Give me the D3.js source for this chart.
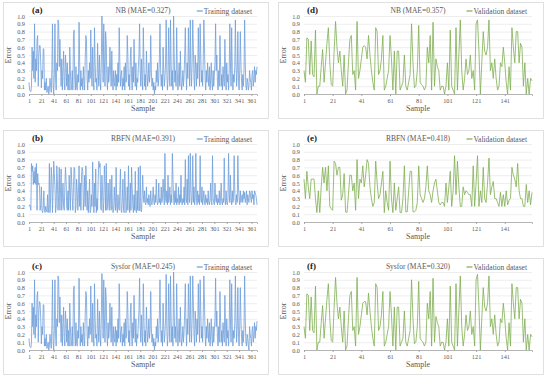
<!DOCTYPE html>
<meta charset="utf-8">
<style>
  body { margin: 0; background: #fff; }
  svg text { font-family: "Liberation Serif", "DejaVu Serif", serif; fill: #595959; }
  .grid line { stroke: #e3e3e3; stroke-width: 0.6; }
  .grid .domain { display: none; }
  .xAxis .domain { stroke: #a6a6a6; stroke-width: 0.8; }
  .xAxis line { stroke: #a6a6a6; }
</style>
<body>
<div id="chartBx"></div>
<script src="https://cdn.jsdelivr.net/npm/d3@7"></script>
<script>

// ---- data ----
var yTicks = [0, 0.1, 0.2, 0.3, 0.4, 0.5, 0.6, 0.7, 0.8, 0.9, 1.0];

var nbTrain = [
  .15,.05,.04,.03,.10,.60,.30,.55,.20,.90, .15,.45,.30,.70,.75,.10,.50,.62,.62,.40,
  .08,.30,.20,.58,.58,.05,.15,.05,.20,.02, .05,.10,.00,.05,.20,.10,.02,.30,.90,.10,
  .00,.25,.90,.20,.05,.40,.30,.95,.90,.35, .70,.40,.10,.45,.05,.30,.55,.15,.05,.50,
  .35,.10,.40,.05,.25,.05,.60,.30,.05,.10, .30,.05,.75,.82,.20,.05,.35,.10,.05,.25,
  .15,.92,.40,.05,.30,.10,.20,.05,.35,.15, .05,.45,.75,.70,.20,.05,.30,.15,.40,.20,
  .82,.30,.10,.60,.20,.05,.85,.40,.15,.20, .05,.65,.30,.10,.50,.20,.05,.40,1.0,.60,
  .15,.90,.40,.10,.80,.65,.20,.05,.35,.15, .25,.60,.30,.10,.55,.20,.05,.30,.15,.10,
  .30,.05,.25,.10,.40,.15,.85,.40,.10,.25, .30,.05,.20,.10,.35,.05,.40,.15,.20,.75,
  .50,.10,.25,.05,.45,.60,.20,.05,.35,.15, .70,.30,.10,.40,.05,.20,.15,.35,.50,.90,
  .30,.10,.45,.20,.05,.85,.40,.10,.25,.05, .55,.30,.10,.20,.40,.15,.25,.75,.30,.10,
  .20,.05,.15,.00,.10,.05,.30,.15,.40,.10, .20,.45,.90,.30,.10,.25,.05,.60,.30,.10,
  .20,.40,.95,.30,.05,.20,.85,.35,.10,.95, .40,.10,.30,.05,1.0,.50,.15,.30,.10,.85,
  .30,.05,.20,.40,.10,.55,.20,.05,.15,.30, .10,.25,.50,.85,.30,.05,.40,.20,.85,.40,
  .10,.95,.30,.10,.40,.95,.60,.20,.05,.50, .30,.10,.40,.20,.85,.40,.10,.90,.50,.15,
  .30,.10,.45,.95,.60,.20,.05,.30,.15,.40, .25,.10,.35,.05,.20,.40,.15,.05,.30,.10,
  .25,.40,.90,.30,.50,.15,.05,.30,.10,.75, .40,.10,.25,.05,.35,.20,.10,.70,.30,.05,
  .40,.15,.25,.05,.30,.90,.40,.10,.85,.30, .05,.25,.15,.35,.95,.40,.10,.30,.80,.20,
  .05,.30,.80,.40,.15,.05,.25,.10,.30,.95, .40,.10,.05,.20,.15,.05,.10,.30,.20,.15,
  .05,.25,.30,.10,.20,.35,.15,.30,.25,.35
];

var rbfnTrain = [
  .20,.22,.20,.15,.75,.65,.72,.48,.65,.50, .70,.48,.75,.15,.62,.48,.50,.45,.15,.22,
  .45,.15,.12,.18,.40,.15,.12,.20,.16,.13, .35,.12,.18,.75,.12,.30,.70,.55,.12,.40,
  .78,.62,.45,.12,.20,.72,.50,.15,.35,.70, .15,.40,.68,.15,.30,.50,.20,.15,.45,.70,
  .55,.20,.15,.40,.15,.60,.35,.15,.70,.55, .30,.15,.45,.70,.68,.12,.20,.55,.40,.15,
  .35,.72,.20,.50,.15,.60,.70,.65,.15,.30, .60,.20,.72,.50,.15,.40,.12,.30,.55,.12,
  .15,.35,.20,.77,.40,.12,.50,.20,.68,.12, .30,.15,.55,.78,.70,.75,.20,.15,.60,.40,
  .12,.25,.72,.50,.15,.75,.15,.20,.50,.25, .15,.55,.30,.15,.60,.20,.12,.15,.45,.25,
  .15,.70,.20,.12,.35,.20,.15,.40,.68,.15, .12,.30,.55,.15,.12,.65,.40,.12,.20,.45,
  .15,.72,.30,.12,.50,.15,.70,.45,.20,.12, .35,.15,.65,.15,.12,.40,.15,.70,.14,.15,
  .72,.15,.13,.30,.60,.35,.25,.40,.25,.22, .45,.25,.30,.22,.35,.25,.20,.40,.25,.22,
  .30,.45,.25,.22,.35,.25,.55,.30,.22,.25, .50,.25,.30,.22,.45,.25,.30,.55,.35,.22,
  .88,.30,.25,.40,.22,.60,.25,.30,.45,.22, .35,.25,.88,.55,.30,.22,.40,.25,.50,.22,
  .30,.25,.45,.22,.35,.25,.60,.25,.22,.30, .25,.45,.22,.80,.30,.25,.55,.22,.85,.30,
  .25,.88,.40,.22,.30,.85,.25,.45,.22,.30, .88,.30,.22,.40,.25,.35,.22,.85,.30,.25,
  .45,.22,.30,.40,.25,.22,.35,.25,.30,.22, .40,.25,.22,.30,.50,.25,.22,.85,.30,.25,
  .22,.50,.30,.25,.35,.22,.30,.25,.40,.22, .30,.50,.25,.22,.30,.25,.82,.30,.22,.40,
  .25,.22,.30,.88,.35,.25,.60,.30,.22,.40, .25,.30,.85,.40,.25,.22,.35,.25,.85,.45,
  .30,.22,.40,.25,.30,.35,.25,.40,.30,.38, .25,.30,.40,.22,.35,.30,.25,.40,.38,.30,
  .25,.40,.30,.35,.22,.40,.38,.35,.30,.22
];

var sysforTrain = [
  .15,.05,.04,.03,.10,.60,.30,.55,.20,.90, .15,.45,.30,.70,.75,.10,.50,.62,.60,.40,
  .08,.30,.20,.58,.58,.05,.15,.05,.20,.02, .05,.10,.00,.05,.20,.10,.02,.30,.90,.10,
  .00,.25,.90,.20,.05,.40,.30,.95,.90,.35, .68,.40,.10,.45,.05,.30,.55,.15,.05,.50,
  .35,.10,.40,.05,.25,.05,.60,.30,.05,.10, .30,.05,.75,.82,.20,.05,.35,.10,.05,.25,
  .15,.92,.40,.05,.30,.10,.20,.05,.35,.15, .05,.45,.75,.70,.20,.05,.30,.15,.40,.20,
  .82,.30,.10,.60,.20,.05,.85,.40,.15,.20, .05,.65,.30,.10,.50,.20,.05,.40,.98,.60,
  .15,.90,.40,.10,.80,.65,.20,.05,.35,.15, .25,.60,.30,.10,.55,.20,.05,.30,.15,.10,
  .30,.05,.25,.10,.40,.15,.85,.40,.10,.25, .30,.05,.20,.10,.35,.05,.40,.15,.20,.75,
  .50,.10,.25,.05,.45,.60,.20,.05,.35,.15, .70,.30,.10,.40,.05,.20,.15,.35,.50,.92,
  .30,.10,.45,.20,.05,.85,.40,.10,.25,.05, .55,.30,.10,.20,.40,.15,.25,.75,.30,.10,
  .20,.05,.15,.00,.10,.05,.30,.15,.40,.10, .20,.45,.90,.30,.10,.25,.05,.60,.30,.10,
  .20,.40,.97,.30,.05,.20,.85,.35,.10,.95, .40,.10,.30,.05,1.0,.50,.15,.30,.10,.85,
  .30,.05,.20,.40,.10,.55,.20,.05,.15,.30, .10,.25,.50,.85,.30,.05,.40,.20,.85,.40,
  .10,.95,.30,.10,.40,.95,.60,.20,.05,.50, .30,.10,.40,.20,.85,.40,.10,.90,.50,.15,
  .30,.10,.45,.95,.60,.20,.05,.30,.15,.40, .25,.10,.35,.05,.20,.40,.15,.05,.30,.10,
  .25,.40,.92,.30,.50,.15,.05,.30,.10,.75, .40,.10,.25,.05,.35,.20,.10,.70,.30,.05,
  .40,.15,.25,.05,.30,.90,.40,.10,.85,.30, .05,.25,.15,.35,.95,.40,.10,.30,.80,.20,
  .05,.30,.80,.40,.15,.05,.25,.10,.30,.95, .40,.10,.05,.20,.15,.05,.00,.30,.20,.15,
  .05,.25,.30,.10,.20,.35,.15,.30,.25,.37
];

var nbValid = [
  .30,.15,.72,.70,.25,.68,.25,.22,.82,.00, .10,.10,.35,.57,.15,.40,.65,.85,.40,.12,
  .10,.55,.93,.60,.40,.55,.30,.10,.50,.00, .05,.40,.70,.75,.25,.30,.05,.93,.20,.30,
  .45,.60,.62,.60,.45,.75,.50,.30,.15,.05, .85,.80,.25,.30,.45,.75,.05,.10,.20,.30,
  .75,.45,.05,.55,.00,.55,.55,.05,.10,.15, .50,.10,.05,.15,.25,.90,.40,.08,.10,.30,
  .88,.15,.12,.10,.05,.10,.60,.40,.75,.05, .92,.10,.45,.35,.30,.05,.10,.10,.00,.10,
  .40,.05,.82,.10,.05,.00,.85,.05,.50,.95, .30,.05,.20,.45,.25,.30,.50,.20,.30,.05,
  .90,.95,.55,.00,.40,.80,.55,.50,.60,.95, .30,.40,.20,.45,.20,.05,.10,.40,.35,.60,
  .40,.15,.00,.35,.05,.85,.60,.40,.80,.80, .40,.65,.60,.10,.40,.00,.20,.00,.20,.17
];

var rbfnValid = [
  .55,.30,.65,.45,.30,.55,.55,.55,.30,.12, .40,.12,.45,.70,.50,.70,.40,.72,.20,.17,
  .15,.78,.75,.60,.70,.70,.28,.35,.62,.13, .12,.35,.60,.60,.40,.50,.15,.80,.30,.55,
  .50,.72,.45,.60,.80,.75,.45,.30,.20,.25, .78,.50,.30,.35,.50,.65,.12,.40,.25,.15,
  .78,.30,.12,.50,.15,.30,.45,.12,.12,.30, .72,.13,.13,.40,.65,.65,.13,.13,.15,.25,
  .72,.35,.30,.25,.30,.45,.72,.40,.35,.25, .40,.50,.55,.40,.25,.22,.25,.25,.20,.50,
  .25,.45,.65,.20,.40,.85,.35,.78,.45,.20, .20,.45,.35,.40,.38,.35,.35,.20,.72,.20,
  .50,.85,.20,.40,.25,.70,.30,.25,.50,.82, .35,.45,.52,.30,.30,.25,.20,.38,.20,.35,
  .20,.40,.22,.28,.30,.70,.60,.55,.45,.75, .40,.30,.30,.20,.20,.48,.25,.40,.22,.38
];

var sysforValid = [
  .30,.15,.72,.70,.25,.68,.25,.22,.82,.00, .10,.10,.35,.57,.15,.40,.65,.85,.40,.12,
  .10,.55,.93,.60,.40,.55,.30,.10,.50,.00, .05,.40,.70,.75,.25,.30,.05,.93,.20,.30,
  .45,.60,.62,.62,.45,.73,.50,.30,.15,.05, .85,.80,.25,.30,.45,.75,.05,.10,.20,.30,
  .75,.45,.05,.55,.00,.55,.55,.05,.10,.15, .50,.10,.05,.15,.25,.90,.40,.08,.10,.30,
  .88,.15,.12,.10,.05,.10,.60,.40,.75,.05, .92,.10,.43,.35,.30,.05,.10,.10,.00,.10,
  .40,.05,.82,.10,.05,.00,.85,.05,.50,.95, .30,.05,.20,.45,.25,.30,.50,.20,.30,.05,
  .90,.97,.55,.00,.40,.80,.55,.50,.60,.95, .30,.40,.20,.45,.20,.05,.10,.40,.35,.60,
  .40,.15,.00,.35,.05,.85,.60,.40,.80,.80, .40,.65,.60,.10,.40,.00,.20,.00,.20,.17
];

var panels = [
  { tag: "(a)", title: "NB (MAE=0.327)",     legend: "Training dataset",   values: nbTrain,     col: 0, row: 0 },
  { tag: "(b)", title: "RBFN (MAE=0.391)",   legend: "Training dataset",   values: rbfnTrain,   col: 0, row: 1 },
  { tag: "(c)", title: "Sysfor (MAE=0.245)", legend: "Training dataset",   values: sysforTrain, col: 0, row: 2 },
  { tag: "(d)", title: "NB (MAE=0.357)",     legend: "Validation dataset", values: nbValid,     col: 1, row: 0 },
  { tag: "(e)", title: "RBFN (MAE=0.418)",   legend: "Validation dataset", values: rbfnValid,   col: 1, row: 1 },
  { tag: "(f)", title: "Sysfor (MAE=0.320)", legend: "Validation dataset", values: sysforValid, col: 1, row: 2 }
];

var lineColors = ["#6f9edb", "#7fae52"];   // training / validation
var FONT = "Liberation Serif";

var svg = d3.select("#chartBx").append("svg")
    .attr("width", 550)
    .attr("height", 378)
    .attr("font-family", FONT);

svg.append("rect").attr("width", 550).attr("height", 378).attr("fill", "#fff");

panels.forEach(function(p) { makePanel(p); });

function makePanel(p) {
  var boxX = 3 + p.col * 275, boxY = 2 + p.row * 128;
  var boxW = 265, boxH = 116;
  var margin = { top: 14, left: 26, width: 228, height: 78 };

  var g = svg.append("g").attr("transform", "translate(" + boxX + "," + boxY + ")");

  // chart area border
  g.append("rect")
    .attr("x", 0.5).attr("y", 0.5)
    .attr("width", boxW).attr("height", boxH)
    .attr("fill", "none").attr("stroke", "#d9d9d9").attr("stroke-width", 0.8);

  var plot = g.append("g").attr("transform", "translate(" + margin.left + "," + margin.top + ")");

  var n = p.values.length;
  var x = d3.scaleLinear().domain([1, n]).range([0, margin.width]);
  var y = d3.scaleLinear().domain([0, 1]).range([margin.height, 0]);

  // grid + y labels
  plot.append("g").attr("class", "grid")
    .attr("font-family", FONT)
    .call(d3.axisLeft(y).tickValues(yTicks).tickSize(-margin.width).tickPadding(4).tickFormat(d3.format(".1f")))
    .selectAll("text").attr("font-size", 6.3);

  // x axis
  var xTicks = d3.range(1, n + 1, 20);
  plot.append("g").attr("class", "xAxis")
    .attr("font-family", FONT)
    .attr("transform", "translate(0," + margin.height + ")")
    .call(d3.axisBottom(x).tickValues(xTicks).tickSize(2).tickPadding(3).tickFormat(d3.format("d")))
    .selectAll("text").attr("font-size", 6.3);

  // series line
  var line = d3.line()
    .x(function(d, i) { return x(i + 1); })
    .y(function(d) { return y(d); });

  plot.append("path")
    .datum(p.values)
    .attr("fill", "none")
    .attr("stroke", lineColors[p.col])
    .attr("stroke-width", 0.8)
    .attr("stroke-linejoin", "round")
    .attr("d", line);

  // texts
  g.append("text")
    .attr("x", margin.left + margin.width / 2).attr("y", 11)
    .attr("text-anchor", "middle").attr("font-size", 7.5)
    .text(p.title);

  g.append("text")
    .attr("x", 29).attr("y", 11)
    .attr("font-size", 9).attr("font-weight", "bold").style("fill", "#222")
    .text(p.tag);

  var lg = g.append("g").attr("transform", "translate(" + (margin.left + margin.width - 5) + ",9)");
  var lt = lg.append("text")
    .attr("x", 0).attr("y", 2.5)
    .attr("text-anchor", "end").attr("font-size", 7.5)
    .text(p.legend);
  var tw = lt.node().getComputedTextLength();
  lg.append("line")
    .attr("x1", -tw - 7).attr("x2", -tw - 1)
    .attr("y1", 0).attr("y2", 0)
    .attr("stroke", lineColors[p.col]).attr("stroke-width", 1.2);

  g.append("text")
    .attr("transform", "translate(8," + (margin.top + margin.height / 2) + ") rotate(-90)")
    .attr("text-anchor", "middle").attr("font-size", 8)
    .text("Error");

  g.append("text")
    .attr("x", margin.left + margin.width / 2).attr("y", margin.top + margin.height + 17)
    .attr("text-anchor", "middle").attr("font-size", 8)
    .text("Sample");
}

</script>
</body>
